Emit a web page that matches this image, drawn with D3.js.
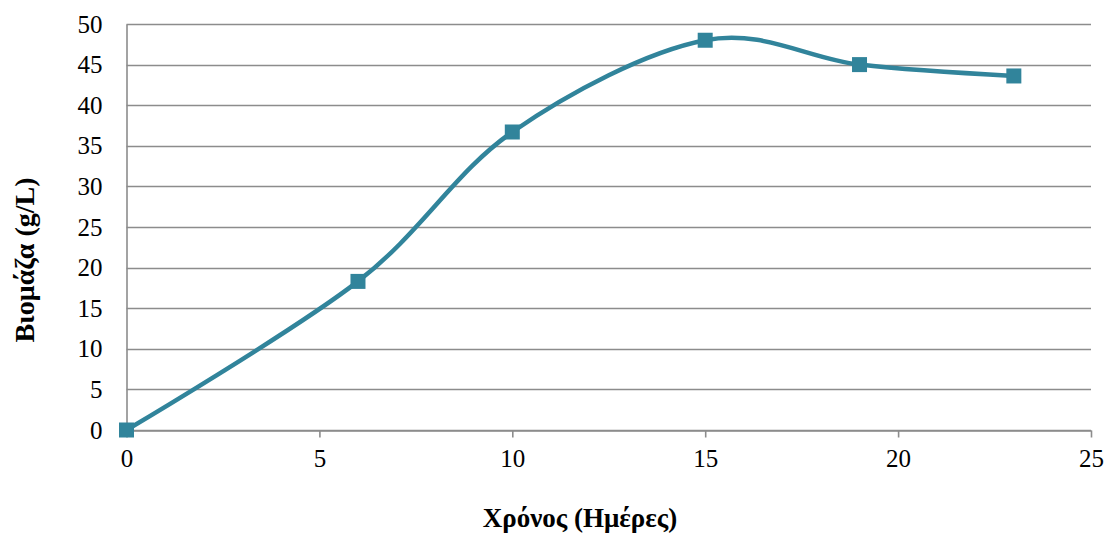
<!DOCTYPE html>
<html>
<head>
<meta charset="utf-8">
<script src="https://cdn.jsdelivr.net/npm/d3@7"></script>
<style>
  html, body { margin: 0; padding: 0; background: #fff; }
  svg { display: block; font-family: "Liberation Serif", "Times New Roman", serif; }
</style>
</head>
<body>
<svg id="chart" width="1106" height="535"></svg>
<script>
// Biomass over cultivation time
const days = [0, 6, 10, 15, 19, 23];
const biomass = [0, 18.3, 36.7, 48, 45, 43.6];
const xTicks = [0, 5, 10, 15, 20, 25];
const yTicks = [0, 5, 10, 15, 20, 25, 30, 35, 40, 45, 50];
const xTitle = "Χρόνος (Ημέρες)";
const yTitle = "Βιομάζα (g/L)";

const svg = d3.select("#chart");
const margin = { left: 126.5, right: 1091, top: 24, bottom: 430 };

const x = d3.scaleLinear().domain([0, 25]).range([margin.left, margin.right]);
const y = d3.scaleLinear().domain([0, 50]).range([margin.bottom, margin.top]);

const lineColor = "#31849b";
const gridColor = "#8c8c8c";
const tickFont = 25;

// horizontal gridlines
svg.append("g")
  .selectAll("line")
  .data(yTicks)
  .join("line")
  .attr("x1", margin.left)
  .attr("x2", margin.right)
  .attr("y1", d => Math.round(y(d)) + 0.5)
  .attr("y2", d => Math.round(y(d)) + 0.5)
  .attr("stroke", gridColor)
  .attr("stroke-width", 1.6);

// y axis labels (no tick marks)
const yAxis = svg.append("g")
  .attr("transform", `translate(${margin.left},0)`)
  .call(d3.axisLeft(y).tickValues(yTicks).tickSize(0).tickPadding(24));
yAxis.select(".domain").attr("stroke", gridColor).attr("stroke-width", 1.6);
yAxis.selectAll("text")
  .attr("font-family", "Liberation Serif, serif")
  .attr("font-size", tickFont)
  .attr("fill", "#000");

// x axis with outward tick marks
const xAxis = svg.append("g")
  .attr("transform", `translate(0,${Math.round(y(0)) + 0.5})`)
  .call(d3.axisBottom(x).tickValues(xTicks).tickSize(7).tickPadding(12).tickSizeOuter(0));
xAxis.select(".domain").attr("stroke", gridColor).attr("stroke-width", 1.6);
xAxis.selectAll(".tick line").attr("stroke", gridColor).attr("stroke-width", 1.6);
xAxis.selectAll("text")
  .attr("font-family", "Liberation Serif, serif")
  .attr("font-size", tickFont)
  .attr("fill", "#000");

// smoothed series line
const points = days.map((d, i) => [d, biomass[i]]);
const line = d3.line()
  .x(d => x(d[0]))
  .y(d => y(d[1]))
  .curve(d3.curveCardinal.tension(0));

svg.append("path")
  .datum(points)
  .attr("d", line)
  .attr("fill", "none")
  .attr("stroke", lineColor)
  .attr("stroke-width", 4.5)
  .attr("stroke-linejoin", "round");

// square markers
const ms = 15;
svg.append("g")
  .selectAll("rect")
  .data(points)
  .join("rect")
  .attr("x", d => x(d[0]) - ms / 2)
  .attr("y", d => y(d[1]) - ms / 2)
  .attr("width", ms)
  .attr("height", ms)
  .attr("fill", lineColor);

// axis titles
svg.append("text")
  .attr("x", 580)
  .attr("y", 527)
  .attr("text-anchor", "middle")
  .attr("font-size", 27)
  .attr("font-weight", "bold")
  .text(xTitle);

svg.append("text")
  .attr("transform", `translate(34,260) rotate(-90)`)
  .attr("text-anchor", "middle")
  .attr("font-size", 28)
  .attr("font-weight", "bold")
  .text(yTitle);
</script>
</body>
</html>
